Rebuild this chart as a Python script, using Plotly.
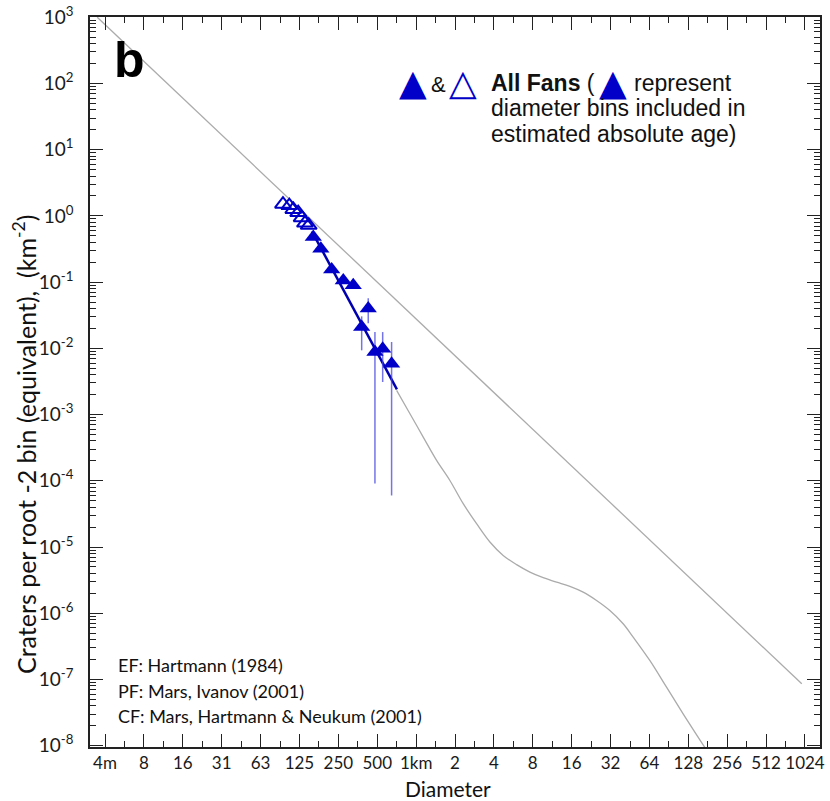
import plotly.graph_objects as go

# ---------------- data (diameter in km, craters per root-2 bin per km^2) -------------
open_d = [0.0932, 0.1043, 0.1120, 0.1222, 0.1300, 0.1379, 0.1474]
open_n = [1.50, 1.43, 1.25, 1.12, 0.94, 0.78, 0.72]

fill_d = [0.160, 0.183, 0.222, 0.273, 0.326, 0.426, 0.379, 0.480, 0.551, 0.646]
fill_n = [0.48, 0.32, 0.155, 0.106, 0.0895, 0.0398, 0.0210, 0.00879, 0.00989, 0.00587]
fill_hi = [0.48, 0.32, 0.155, 0.106, 0.0895, 0.0569, 0.0304, 0.0176, 0.0176, 0.01245]
fill_lo = [0.48, 0.32, 0.155, 0.106, 0.0895, 0.0239, 0.00933, 9.1e-5, 0.0031, 6.0e-5]

fit_d = [0.156, 0.71]
fit_n = [0.585, 2.40e-3]

sat_d = [3.4e-3, 967]
sat_n = [1000, 8.6e-8]

iso_d = [0.7065, 0.896, 1.135, 1.441, 1.826, 2.315, 2.938, 3.725, 4.72, 5.996, 7.60,
         9.63, 12.23, 15.50, 19.64, 24.93, 31.6, 40.06, 47.9, 64.4, 86.8, 116.7, 171.8]
iso_n = [2.32e-3, 1.03e-3, 4.57e-4, 2.03e-4, 1.01e-4, 4.51e-5, 2.25e-5, 1.19e-5, 7.46e-6,
         5.41e-6, 4.18e-6, 3.44e-6, 2.95e-6, 2.54e-6, 2.08e-6, 1.56e-6, 1.10e-6, 6.94e-7,
         4.36e-7, 1.94e-7, 7.65e-8, 3.03e-8, 9.4e-9]

x_tickvals = [0.00390625, 0.0078125, 0.015625, 0.03125, 0.0625, 0.125, 0.25, 0.5, 1,
              2, 4, 8, 16, 32, 64, 128, 256, 512, 1024]
x_ticktext = ["4m", "8", "16", "31", "63", "125", "250", "500", "1km", "2", "4", "8",
              "16", "32", "64", "128", "256", "512", "1024"]
y_exponents = [-8, -7, -6, -5, -4, -3, -2, -1, 0, 1, 2, 3]

# ---------------- figure ----------------
BLUE = "#0000c8"
GRAY = "#ababab"
fig = go.Figure()

fig.add_trace(go.Scatter(x=sat_d, y=sat_n, mode="lines",
                         line=dict(color=GRAY, width=1.3), hoverinfo="skip"))
fig.add_trace(go.Scatter(x=iso_d, y=iso_n, mode="lines",
                         line=dict(color=GRAY, width=1.3, shape="spline"), hoverinfo="skip"))
fig.add_trace(go.Scatter(x=fit_d, y=fit_n, mode="lines",
                         line=dict(color="#0000b0", width=2.5), hoverinfo="skip"))

err_plus = [h - n for h, n in zip(fill_hi, fill_n)]
err_minus = [n - l for n, l in zip(fill_n, fill_lo)]
fig.add_trace(go.Scatter(
    x=fill_d, y=fill_n, mode="markers",
    marker=dict(symbol="triangle-up", size=15, color=BLUE, line=dict(width=0)),
    error_y=dict(type="data", symmetric=False, array=err_plus, arrayminus=err_minus,
                 color="rgba(70,70,225,0.75)", thickness=1.5, width=0),
))
fig.add_trace(go.Scatter(
    x=open_d, y=open_n, mode="markers",
    marker=dict(symbol="triangle-up-open", size=14, color=BLUE, line=dict(width=2.0, color=BLUE)),
))

x_minor = [v * 2 ** 0.5 for v in [0.001953125] + x_tickvals]
y_minor = [k * 10.0 ** e for e in range(-9, 3) for k in range(2, 10)]

fig.update_xaxes(
    type="log", range=[-2.5245, 3.1265], automargin=False,
    tickmode="array", tickvals=x_tickvals, ticktext=x_ticktext,
    ticks="inside", ticklen=13, tickwidth=1.3, tickcolor="#222",
    showline=True, linecolor="#222", linewidth=1.5, mirror="ticks",
    showgrid=False, zeroline=False, ticklabeloverflow="allow",
    tickfont=dict(family="Lato", size=17, color="#1a1a1a"),
    minor=dict(tickvals=x_minor, ticks="inside", ticklen=6, tickwidth=1.2,
               tickcolor="#222", showgrid=False),
)
fig.update_yaxes(
    type="log", range=[-8.02, 3.003], automargin=False,
    tickmode="array", tickvals=[10.0 ** e for e in y_exponents],
    ticktext=["10<sup>%d</sup>" % e for e in y_exponents],
    ticks="inside", ticklen=13, tickwidth=1.3, tickcolor="#222",
    showline=True, linecolor="#222", linewidth=1.5, mirror="ticks",
    showgrid=False, zeroline=False, ticklabeloverflow="allow",
    tickfont=dict(family="Lato", size=19, color="#1a1a1a"), ticklabelstandoff=11,
    minor=dict(tickvals=y_minor, ticks="inside", ticklen=6, tickwidth=1.2,
               tickcolor="#222", showgrid=False),
)

W, H = 830, 801
L, R, T, B = 90, 10, 17, 54
PW, PH = W - L - R, H - T - B


def px(x):
    return (x - L) / PW


def py(y):
    return (H - B - y) / PH


ann = []


def add(text, x, y, size, xanchor="left", color="#111", family="Liberation Sans", angle=0):
    ann.append(dict(text=text, x=px(x), y=py(y), xref="paper", yref="paper",
                    xanchor=xanchor, yanchor="middle", showarrow=False, textangle=angle,
                    font=dict(family=family, size=size, color=color)))


add("<b>b</b>", 129, 60, 50, xanchor="center", color="#000")
add("▲", 413, 82, 36, xanchor="center", color=BLUE, family="DejaVu Sans")
add("&amp;", 438, 84, 22, xanchor="center")
add("△", 463, 82, 36, xanchor="center", color=BLUE, family="DejaVu Sans")
add("<b>All Fans</b> (", 489, 83, 23)
add("▲", 613, 82, 36, xanchor="center", color=BLUE, family="DejaVu Sans")
add("represent", 632, 83, 23)
add("diameter bins included in", 489, 108, 23)
add("estimated absolute age)", 489, 134, 23)

add("EF: Hartmann (1984)", 116, 665, 18, family="Lato")
add("PF: Mars, Ivanov (2001)", 116, 691, 18, family="Lato")
add("CF: Mars, Hartmann &amp; Neukum (2001)", 116, 716, 18, family="Lato")

add("Craters per root -2 bin (equivalent),  (km<sup>-2</sup>)", 24, 445, 25,
    xanchor="center", family="Lato", angle=-90)
add("Diameter", 448, 788, 21, xanchor="center", family="Lato")

fig.update_layout(
    width=W, height=H,
    margin=dict(l=L, r=R, t=T, b=B),
    paper_bgcolor="white", plot_bgcolor="white",
    showlegend=False, annotations=ann,
)

# remove the default 8px page margin so the figure fills the 830x801 window exactly
fig.write_html("out.html", config={"displayModeBar": False},
               post_script="document.body.style.margin='0px';")
